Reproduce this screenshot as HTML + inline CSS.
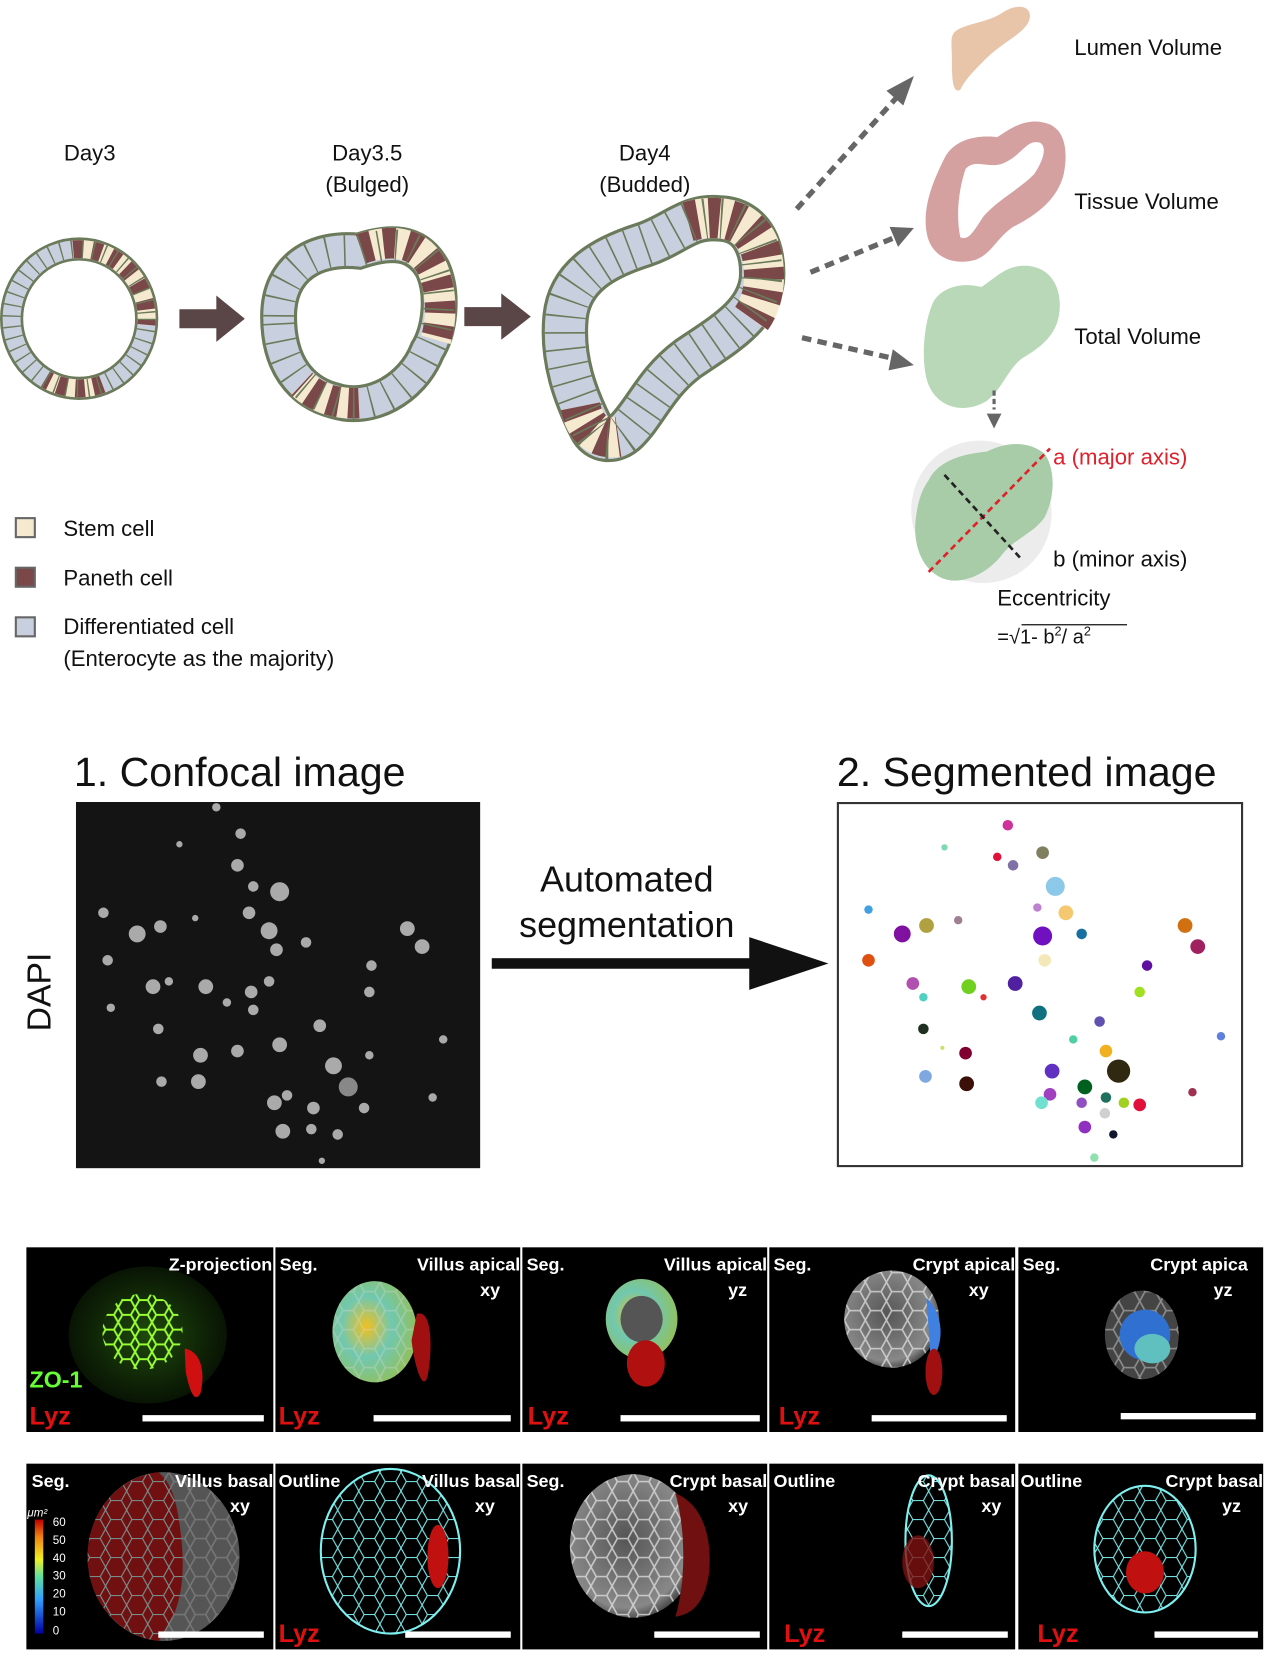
<!DOCTYPE html>
<html><head><meta charset="utf-8"><style>
html,body{margin:0;padding:0;background:#fff;}
svg{display:block;}
text{font-family:"Liberation Sans",sans-serif;}
</style></head><body>
<svg width="1279" height="1661" viewBox="0 0 1212 1574" preserveAspectRatio="none" xmlns="http://www.w3.org/2000/svg">
<defs>
<radialGradient id="rg1" cx="0.4" cy="0.45" r="0.6"><stop offset="0" stop-color="#f0c020"/><stop offset="0.5" stop-color="#70c8b0"/><stop offset="1" stop-color="#90c060"/></radialGradient>
<radialGradient id="gray" cx="0.45" cy="0.45" r="0.6"><stop offset="0" stop-color="#555"/><stop offset="0.8" stop-color="#888"/><stop offset="1" stop-color="#333"/></radialGradient>
<radialGradient id="zo" cx="0.5" cy="0.5" r="0.5"><stop offset="0" stop-color="#1f4a0c"/><stop offset="1" stop-color="#081404"/></radialGradient>
<pattern id="cells" width="20" height="18" patternUnits="userSpaceOnUse"><path d="M0,9 L5,0 L15,0 L20,9 L15,18 L5,18 Z" fill="none" stroke="#ddd" stroke-width="1.5" opacity="0.8"/></pattern>
<pattern id="cellsC" width="20" height="18" patternUnits="userSpaceOnUse"><path d="M0,9 L5,0 L15,0 L20,9 L15,18 L5,18 Z" fill="none" stroke="#7ff0f0" stroke-width="1"/></pattern>
<pattern id="cellsG" width="16" height="14" patternUnits="userSpaceOnUse"><path d="M0,7 L4,0 L12,0 L16,7 L12,14 L4,14 Z" fill="none" stroke="#9f3" stroke-width="1.8"/></pattern>
<linearGradient id="cbar" x1="0" y1="1" x2="0" y2="0"><stop offset="0" stop-color="#0000a0"/><stop offset="0.3" stop-color="#30a0ff"/><stop offset="0.5" stop-color="#60e0a0"/><stop offset="0.65" stop-color="#f0f020"/><stop offset="0.85" stop-color="#f08010"/><stop offset="1" stop-color="#c00000"/></linearGradient>
</defs>

<g font-size="21" text-anchor="middle" fill="#111">
<text x="85" y="152">Day3</text>
<text x="348" y="152">Day3.5</text><text x="348" y="182">(Bulged)</text>
<text x="611" y="152">Day4</text><text x="611" y="182">(Budded)</text>
</g>

<!-- Ring 1 -->
<g fill="none">
<ellipse cx="75" cy="302" rx="64" ry="66" stroke="#6b7a5a" stroke-width="22"/>
<ellipse cx="75" cy="302" rx="64" ry="66" stroke="#c8cfde" stroke-width="17"/>
<path d="M69.4,236.3 A64,66 0 0 1 138.8,307.8" stroke="#f5ead0" stroke-width="17"/>
<path d="M69.4,236.3 A64,66 0 0 1 138.8,307.8" stroke="#7a4848" stroke-width="17" stroke-dasharray="9 9"/>
<path d="M96.9,364 A64,66 0 0 1 43,359.2" stroke="#f5ead0" stroke-width="17"/>
<path d="M96.9,364 A64,66 0 0 1 43,359.2" stroke="#7a4848" stroke-width="17" stroke-dasharray="9 8"/>
<ellipse cx="75" cy="302" rx="64" ry="66" stroke="#6b7a5a" stroke-width="17" stroke-dasharray="1.3 9"/>
</g>
<path d="M170,293 H205 V280 L232,302 L205,324 V311 H170 Z" fill="#5a4646"/>
<path d="M440,291 H475 V278 L503,300 L475,322 V309 H440 Z" fill="#5a4646"/>

<!-- Ring 2 -->
<g fill="none">
<path d="M264,300 C264,252 300,234 340,238 C370,228 395,228 410,255 C421,280 416,315 405,332 C390,370 350,390 318,380 C285,372 264,345 264,300 Z" stroke="#6b7a5a" stroke-width="35"/>
<path d="M264,300 C264,252 300,234 340,238 C370,228 395,228 410,255 C421,280 416,315 405,332 C390,370 350,390 318,380 C285,372 264,345 264,300 Z" stroke="#c8cfde" stroke-width="29"/>
<path d="M342,236 C370,226 397,228 410,255 C420,280 418,305 413,322" stroke="#f5ead0" stroke-width="29"/>
<path d="M342,236 C370,226 397,228 410,255 C420,280 418,305 413,322" stroke="#7a4848" stroke-width="29" stroke-dasharray="11 11"/>
<path d="M340,382 C318,383 300,377 286,364" stroke="#f5ead0" stroke-width="29"/>
<path d="M340,382 C318,383 300,377 286,364" stroke="#7a4848" stroke-width="29" stroke-dasharray="10 9"/>
<path d="M264,300 C264,252 300,234 340,238 C370,228 395,228 410,255 C421,280 416,315 405,332 C390,370 350,390 318,380 C285,372 264,345 264,300 Z" stroke="#6b7a5a" stroke-width="29" stroke-dasharray="1.5 15"/>
</g>

<!-- Day4 -->
<g fill="none">
<path d="M560,405 C545,375 532,340 536,300 C540,262 572,244 610,232 C640,222 652,204 682,207 C714,208 724,238 722,265 C718,300 684,318 652,340 C622,362 612,390 594,408 C582,420 566,418 560,405 Z" stroke="#6b7a5a" stroke-width="44"/>
<path d="M560,405 C545,375 532,340 536,300 C540,262 572,244 610,232 C640,222 652,204 682,207 C714,208 724,238 722,265 C718,300 684,318 652,340 C622,362 612,390 594,408 C582,420 566,418 560,405 Z" stroke="#c8cfde" stroke-width="38"/>
<path d="M652,210 C680,202 714,206 722,242 C727,268 722,288 712,302" stroke="#f5ead0" stroke-width="38"/>
<path d="M652,210 C680,202 714,206 722,242 C727,268 722,288 712,302" stroke="#7a4848" stroke-width="38" stroke-dasharray="10 10"/>
<path d="M550,385 C554,405 566,417 586,414" stroke="#f5ead0" stroke-width="38"/>
<path d="M550,385 C554,405 566,417 586,414" stroke="#7a4848" stroke-width="38" stroke-dasharray="9 8"/>
<path d="M560,405 C545,375 532,340 536,300 C540,262 572,244 610,232 C640,222 652,204 682,207 C714,208 724,238 722,265 C718,300 684,318 652,340 C622,362 612,390 594,408 C582,420 566,418 560,405 Z" stroke="#6b7a5a" stroke-width="38" stroke-dasharray="1.5 14"/>
</g>

<!-- Right shapes -->
<path d="M905,30 C915,22 935,22 950,12 C965,2 980,6 975,20 C970,32 950,40 935,55 C922,68 915,75 910,85 C902,90 902,70 902,55 C902,42 900,35 905,30 Z" fill="#e8c4a8"/>
<path d="M895,150 C905,130 930,128 945,130 C960,120 975,110 995,118 C1010,125 1012,145 1008,165 C1002,190 980,205 960,215 C945,225 940,240 925,246 C905,252 882,245 878,220 C874,195 885,170 895,150 Z M915,160 C910,175 905,200 910,225 C918,228 922,220 932,205 C945,190 965,180 980,165 C990,150 992,138 985,135 C972,132 968,148 950,155 C935,160 925,150 915,160 Z" fill="#d4a0a0" fill-rule="evenodd"/>
<path d="M885,285 C895,270 915,268 930,272 C945,262 955,250 975,252 C998,255 1006,275 1004,295 C1002,318 985,330 968,340 C955,350 950,368 935,380 C915,392 890,388 880,365 C872,345 875,305 885,285 Z" fill="#b8d8b8"/>
<path d="M942,370 V388" stroke="#666" stroke-width="3" stroke-dasharray="5 3"/>
<path d="M935,392 L949,392 L942,406 Z" fill="#666"/>
<ellipse cx="930" cy="485" rx="66" ry="68" transform="rotate(-30 930 485)" fill="#ececec"/>
<path d="M880,455 C890,435 915,430 935,428 C955,418 975,418 990,430 C1000,445 1000,470 990,490 C980,505 962,510 950,525 C935,545 910,555 893,548 C870,538 865,510 868,490 C870,475 873,465 880,455 Z" fill="#a8cca8"/>
<path d="M880,542 L995,425" stroke="#e0202a" stroke-width="2.5" stroke-dasharray="6 4"/>
<path d="M895,450 L968,530" stroke="#222" stroke-width="2.5" stroke-dasharray="6 4"/>

<g stroke="#666" stroke-width="5" stroke-dasharray="9 6" fill="none">
<path d="M755,198 L850,92"/><path d="M768,258 L848,225"/><path d="M760,320 L848,340"/>
</g>
<g fill="#666">
<path d="M866,72 L840,86 L856,100 Z"/><path d="M866,216 L843,215 L851,234 Z"/><path d="M866,346 L846,331 L842,351 Z"/>
</g>

<g font-size="21" fill="#111">
<text x="1018" y="52">Lumen Volume</text>
<text x="1018" y="198">Tissue Volume</text>
<text x="1018" y="326">Total  Volume</text>
<text x="998" y="440" fill="#e0202a">a (major axis)</text>
<text x="998" y="537">b (minor axis)</text>
<text x="945" y="574">Eccentricity</text>
<text x="945" y="610" font-size="19">=√1- b<tspan font-size="12" dy="-8">2</tspan><tspan dy="8">/ a</tspan><tspan font-size="12" dy="-8">2</tspan></text>
</g>
<path d="M968,592 H1068" stroke="#111" stroke-width="1.2"/>

<rect x="15" y="491" width="18" height="18" fill="#f5ead0" stroke="#666" stroke-width="2"/>
<rect x="15" y="538" width="18" height="18" fill="#7a4848" stroke="#666" stroke-width="2"/>
<rect x="15" y="585" width="18" height="18" fill="#c8cfde" stroke="#666" stroke-width="2"/>
<g font-size="21" fill="#111">
<text x="60" y="508">Stem cell</text>
<text x="60" y="555">Paneth cell</text>
<text x="60" y="601">Differentiated cell</text>
<text x="60" y="631">(Enterocyte as the majority)</text>
</g>

<g font-size="39" fill="#111">
<text x="70" y="745">1. Confocal image</text>
<text x="793" y="745">2. Segmented image</text>
</g>
<text transform="translate(48,940) rotate(-90)" font-size="32" text-anchor="middle" fill="#111">DAPI</text>
<rect x="72" y="760" width="383" height="347" fill="#141414"/>
<g fill="#aaa">
<circle cx="205" cy="765" r="4"/><circle cx="228" cy="790" r="5"/><circle cx="170" cy="800" r="3"/><circle cx="225" cy="820" r="6"/><circle cx="240" cy="840" r="5"/><circle cx="265" cy="845" r="9"/><circle cx="98" cy="865" r="5"/><circle cx="130" cy="885" r="8"/><circle cx="152" cy="878" r="6"/><circle cx="185" cy="870" r="3"/><circle cx="236" cy="865" r="6"/><circle cx="255" cy="882" r="8"/><circle cx="262" cy="900" r="6"/><circle cx="290" cy="893" r="5"/><circle cx="102" cy="910" r="5"/><circle cx="145" cy="935" r="7"/><circle cx="160" cy="930" r="4"/><circle cx="195" cy="935" r="7"/><circle cx="215" cy="950" r="4"/><circle cx="238" cy="940" r="6"/><circle cx="255" cy="930" r="5"/><circle cx="352" cy="915" r="5"/><circle cx="386" cy="880" r="7"/><circle cx="400" cy="897" r="7"/><circle cx="105" cy="955" r="4"/><circle cx="150" cy="975" r="5"/><circle cx="190" cy="1000" r="7"/><circle cx="225" cy="996" r="6"/><circle cx="240" cy="957" r="5"/><circle cx="265" cy="990" r="7"/><circle cx="303" cy="972" r="6"/><circle cx="316" cy="1010" r="8"/><circle cx="330" cy="1030" r="9" fill="#888"/><circle cx="345" cy="1050" r="5"/><circle cx="350" cy="940" r="5"/><circle cx="297" cy="1050" r="6"/><circle cx="260" cy="1045" r="7"/><circle cx="272" cy="1038" r="5"/><circle cx="153" cy="1025" r="5"/><circle cx="188" cy="1025" r="7"/><circle cx="420" cy="985" r="4"/><circle cx="410" cy="1040" r="4"/><circle cx="305" cy="1100" r="3"/><circle cx="320" cy="1075" r="5"/><circle cx="268" cy="1072" r="7"/><circle cx="295" cy="1070" r="5"/><circle cx="350" cy="1000" r="4"/>
</g>
<g font-size="34" fill="#111" text-anchor="middle">
<text x="594" y="845">Automated</text><text x="594" y="888">segmentation</text>
</g>
<rect x="466" y="908" width="248" height="10" fill="#111"/>
<path d="M710,888 L785,913 L710,938 Z" fill="#111"/>
<rect x="794" y="761" width="383" height="344" fill="#fff" stroke="#333" stroke-width="2"/>
<g>
<circle cx="955" cy="782" r="5" fill="#d0309a"/><circle cx="895" cy="803" r="3" fill="#7ed9b0"/><circle cx="945" cy="812" r="4" fill="#e0103a"/><circle cx="960" cy="820" r="5" fill="#8070a8"/><circle cx="988" cy="808" r="6" fill="#808060"/><circle cx="1000" cy="840" r="9" fill="#8cc8e8"/><circle cx="1010" cy="865" r="7" fill="#f5c870"/><circle cx="983" cy="860" r="4" fill="#c080d0"/><circle cx="1025" cy="885" r="5" fill="#1870a0"/><circle cx="823" cy="862" r="4" fill="#40a0e0"/><circle cx="855" cy="885" r="8" fill="#8010a0"/><circle cx="878" cy="877" r="7" fill="#b0a040"/><circle cx="908" cy="872" r="4" fill="#a08090"/><circle cx="988" cy="887" r="9" fill="#7010c0"/><circle cx="990" cy="910" r="6" fill="#f5e8b8"/><circle cx="1123" cy="877" r="7" fill="#d07010"/><circle cx="1135" cy="897" r="7" fill="#a02060"/><circle cx="823" cy="910" r="6" fill="#e05010"/><circle cx="1087" cy="915" r="5" fill="#6010a0"/><circle cx="865" cy="932" r="6" fill="#b050b0"/><circle cx="875" cy="945" r="4" fill="#50d0c0"/><circle cx="918" cy="935" r="7" fill="#70d020"/><circle cx="962" cy="932" r="7" fill="#5020a0"/><circle cx="932" cy="945" r="3" fill="#e03030"/><circle cx="985" cy="960" r="7" fill="#107080"/><circle cx="1042" cy="968" r="5" fill="#6050b0"/><circle cx="1080" cy="940" r="5" fill="#a0e020"/><circle cx="875" cy="975" r="5" fill="#203020"/><circle cx="893" cy="993" r="2" fill="#d0e070"/><circle cx="1017" cy="985" r="4" fill="#50d0a0"/><circle cx="915" cy="998" r="6" fill="#800030"/><circle cx="1048" cy="996" r="6" fill="#f0b020"/><circle cx="1060" cy="1015" r="11" fill="#302810"/><circle cx="1157" cy="982" r="4" fill="#6080e0"/><circle cx="877" cy="1020" r="6" fill="#80a8e0"/><circle cx="916" cy="1027" r="7" fill="#3a1008"/><circle cx="997" cy="1015" r="7" fill="#6030c0"/><circle cx="995" cy="1037" r="6" fill="#a040c0"/><circle cx="987" cy="1045" r="6" fill="#70e0d0"/><circle cx="1028" cy="1030" r="7" fill="#006020"/><circle cx="1048" cy="1040" r="5" fill="#207060"/><circle cx="1025" cy="1045" r="5" fill="#9050c0"/><circle cx="1065" cy="1045" r="5" fill="#a0d020"/><circle cx="1080" cy="1047" r="6" fill="#e0103a"/><circle cx="1047" cy="1055" r="5" fill="#d0d0d0"/><circle cx="1028" cy="1068" r="6" fill="#9030c0"/><circle cx="1055" cy="1075" r="4" fill="#101830"/><circle cx="1130" cy="1035" r="4" fill="#a03050"/><circle cx="1037" cy="1097" r="4" fill="#90e0b0"/>
</g>

<!-- Bottom panels -->
<g fill="#000">
<rect x="25" y="1182" width="234" height="175"/>
<rect x="261" y="1182" width="232" height="175"/>
<rect x="495" y="1182" width="232" height="175"/>
<rect x="729" y="1182" width="233" height="175"/>
<rect x="965" y="1182" width="232" height="175"/>
<rect x="25" y="1387" width="234" height="176"/>
<rect x="261" y="1387" width="232" height="176"/>
<rect x="495" y="1387" width="232" height="176"/>
<rect x="729" y="1387" width="233" height="176"/>
<rect x="965" y="1387" width="232" height="176"/>
</g>
<ellipse cx="140" cy="1265" rx="75" ry="65" fill="url(#zo)"/>
<ellipse cx="135" cy="1262" rx="38" ry="36" fill="url(#cellsG)"/>
<path d="M175,1278 C190,1280 195,1300 190,1320 C185,1330 180,1320 176,1300 Z" fill="#d01010"/>
<ellipse cx="355" cy="1262" rx="40" ry="48" fill="url(#rg1)"/>
<ellipse cx="355" cy="1262" rx="40" ry="48" fill="url(#cells)" opacity="0.4"/>
<path d="M395,1245 C410,1240 410,1280 405,1305 C400,1320 392,1290 390,1270 Z" fill="#a01010"/>
<ellipse cx="608" cy="1250" rx="34" ry="38" fill="url(#rg1)"/>
<ellipse cx="608" cy="1250" rx="20" ry="22" fill="#555"/>
<ellipse cx="612" cy="1292" rx="18" ry="22" fill="#b01010"/>
<ellipse cx="845" cy="1250" rx="45" ry="46" fill="url(#gray)"/>
<ellipse cx="845" cy="1250" rx="45" ry="46" fill="url(#cells)"/>
<path d="M878,1230 C895,1245 895,1275 882,1290 Z" fill="#4080e0"/>
<ellipse cx="885" cy="1300" rx="8" ry="22" fill="#a01010"/>
<ellipse cx="1082" cy="1265" rx="35" ry="42" fill="#444"/>
<ellipse cx="1082" cy="1265" rx="35" ry="42" fill="url(#cells)" opacity="0.6"/>
<ellipse cx="1085" cy="1265" rx="24" ry="24" fill="#3070d0"/>
<ellipse cx="1092" cy="1278" rx="17" ry="14" fill="#60c0c0"/>

<ellipse cx="155" cy="1475" rx="72" ry="80" fill="#555"/>
<ellipse cx="155" cy="1475" rx="72" ry="80" fill="url(#cells)" opacity="0.3"/>
<path d="M150,1395 C110,1400 83,1435 83,1475 C83,1515 110,1550 150,1555 C170,1530 176,1500 172,1460 C168,1420 162,1405 150,1395 Z" fill="#701010"/>
<path d="M150,1395 C110,1400 83,1435 83,1475 C83,1515 110,1550 150,1555 C170,1530 176,1500 172,1460 C168,1420 162,1405 150,1395 Z" fill="url(#cellsC)" opacity="0.6"/>
<rect x="33" y="1440" width="8" height="108" fill="url(#cbar)"/>
<ellipse cx="370" cy="1470" rx="66" ry="78" fill="url(#cellsC)"/>
<ellipse cx="370" cy="1470" rx="66" ry="78" fill="none" stroke="#7ff0f0" stroke-width="2"/>
<ellipse cx="415" cy="1475" rx="10" ry="30" fill="#c01010"/>
<ellipse cx="600" cy="1465" rx="60" ry="68" fill="url(#gray)"/>
<ellipse cx="600" cy="1465" rx="60" ry="68" fill="url(#cells)"/>
<path d="M640,1415 C665,1425 675,1455 672,1490 C668,1520 655,1530 640,1532 C650,1500 650,1450 640,1415 Z" fill="#701010"/>
<ellipse cx="880" cy="1460" rx="22" ry="62" fill="url(#cellsC)"/>
<ellipse cx="880" cy="1460" rx="22" ry="62" fill="none" stroke="#7ff0f0" stroke-width="2"/>
<ellipse cx="870" cy="1480" rx="15" ry="25" fill="#801010" opacity="0.8"/>
<ellipse cx="1085" cy="1468" rx="48" ry="60" fill="url(#cellsC)"/>
<ellipse cx="1085" cy="1468" rx="48" ry="60" fill="none" stroke="#7ff0f0" stroke-width="2"/>
<ellipse cx="1085" cy="1490" rx="18" ry="20" fill="#c01010"/>

<g font-size="17" font-weight="bold" fill="#fff">
<text x="258" y="1204" text-anchor="end">Z-projection</text>
<text x="265" y="1204">Seg.</text><text x="493" y="1204" text-anchor="end">Villus apical</text><text x="455" y="1228">xy</text>
<text x="499" y="1204">Seg.</text><text x="727" y="1204" text-anchor="end">Villus apical</text><text x="690" y="1228">yz</text>
<text x="733" y="1204">Seg.</text><text x="962" y="1204" text-anchor="end">Crypt apical</text><text x="918" y="1228">xy</text>
<text x="969" y="1204">Seg.</text><text x="1090" y="1204">Crypt apica</text><text x="1150" y="1228">yz</text>
<text x="30" y="1409">Seg.</text><text x="259" y="1409" text-anchor="end">Villus basal</text><text x="218" y="1433">xy</text>
<text x="264" y="1409">Outline</text><text x="493" y="1409" text-anchor="end">Villus basal</text><text x="450" y="1433">xy</text>
<text x="499" y="1409">Seg.</text><text x="727" y="1409" text-anchor="end">Crypt basal</text><text x="690" y="1433">xy</text>
<text x="733" y="1409">Outline</text><text x="962" y="1409" text-anchor="end">Crypt basal</text><text x="930" y="1433">xy</text>
<text x="967" y="1409">Outline</text><text x="1197" y="1409" text-anchor="end">Crypt basal</text><text x="1158" y="1433">yz</text>
</g>
<g font-size="11" fill="#fff">
<text x="26" y="1437" font-style="italic">μm²</text>
<text x="50" y="1446">60</text><text x="50" y="1463">50</text><text x="50" y="1480">40</text><text x="50" y="1497">30</text><text x="50" y="1514">20</text><text x="50" y="1531">10</text><text x="50" y="1549">0</text>
</g>
<text x="28" y="1315" font-size="22" font-weight="bold" fill="#6f3">ZO-1</text>
<g font-size="24" font-weight="bold" fill="#e01010">
<text x="28" y="1350">Lyz</text><text x="264" y="1350">Lyz</text><text x="500" y="1350">Lyz</text><text x="738" y="1350">Lyz</text>
<text x="264" y="1556">Lyz</text><text x="743" y="1556">Lyz</text><text x="983" y="1556">Lyz</text>
</g>
<g fill="#fff">
<rect x="135" y="1341" width="115" height="6"/><rect x="354" y="1341" width="130" height="6"/><rect x="588" y="1341" width="132" height="6"/><rect x="826" y="1341" width="128" height="6"/><rect x="1062" y="1339" width="128" height="6"/>
<rect x="150" y="1546" width="100" height="6"/><rect x="384" y="1546" width="100" height="6"/><rect x="620" y="1546" width="100" height="6"/><rect x="855" y="1546" width="100" height="6"/><rect x="1094" y="1546" width="98" height="6"/>
</g>
</svg>
</body></html>
